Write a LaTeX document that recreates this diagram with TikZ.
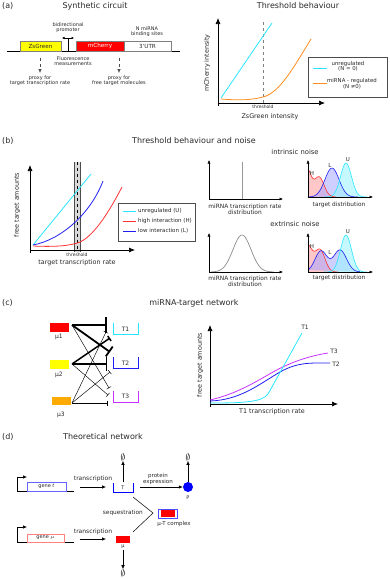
\documentclass[tikz,border=0pt]{standalone}
\usepackage{fontspec}
\setmainfont{DejaVu Sans}
\usetikzlibrary{arrows.meta}
\newcommand\myfs[1]{\fontsize{#1}{#1}\selectfont}
\definecolor{cy}{RGB}{40,230,255}
\definecolor{orng}{RGB}{255,140,30}
\definecolor{rd}{RGB}{255,50,50}
\definecolor{bl}{RGB}{30,30,240}
\definecolor{mg}{RGB}{200,50,255}
\definecolor{txt}{RGB}{40,40,40}
\definecolor{ylw}{RGB}{255,255,0}
\definecolor{org}{RGB}{255,170,0}
\begin{document}
\begin{tikzpicture}[x=1pt,y=-1pt,
  ttl/.style={font=\myfs{8}, text=txt, inner sep=0},
  lab/.style={font=\myfs{5.5}, text=txt, inner sep=0, align=center},
  cir/.style={font=\myfs{5}, text=txt, inner sep=0, align=center},
  axl/.style={font=\myfs{6.4}, text=txt, inner sep=0, align=center},
  sml/.style={font=\myfs{4.5}, text=txt, inner sep=0, align=center},
  ax/.style={line width=0.7pt, -{Latex[length=6pt,width=5pt]}},
  axs/.style={line width=0.5pt, -{Latex[length=3.5pt,width=3pt]}},
  arr/.style={line width=0.6pt, -{Latex[length=4pt,width=3.5pt]}},
  crv/.style={line width=0.8pt},
  thn/.style={line width=0.45pt, -{Bar[width=5pt]}},
  declare function={
    Hi(\x)=27*exp((\x-307)*(\x-307)/(-32))+20*exp((\x-319)*(\x-319)/(-50));
    Li(\x)=29*exp((\x-332)*(\x-332)/(-98));
    Ui(\x)=34*exp((\x-346)*(\x-346)/(-60));
    He(\x)=27*exp((\x-307)*(\x-307)/(-50))+22*exp((\x-320)*(\x-320)/(-50));
    Le(\x)=21*exp((\x-321)*(\x-321)/(-72))+22*exp((\x-340)*(\x-340)/(-84));
    Ue(\x)=37*exp((\x-346)*(\x-346)/(-60));
    Gs(\x)=37*exp((\x-242)*(\x-242)/(-162));
  }
]
\useasboundingbox (0,0) rectangle (389,579);

%% ---------------- (a) left
\node[ttl,anchor=west] (la) at (2,6) {(a)};
\node[ttl] (ta) at (95,6) {Synthetic circuit};
\draw[line width=0.6pt] (7,51) -- (180,51);
\draw[black!50, fill=ylw] (20,41) rectangle (61,51);
\node[cir, font=\myfs{5.6}] (zs) at (40.5,46) {ZsGreen};
\draw[black!50, fill=red] (76,41) rectangle (124,51);
\node[cir, font=\myfs{5.6}, text=white] (mc) at (100,46) {mCherry};
\draw[black!50, fill=white] (124,41) rectangle (171,51);
\node[cir, font=\myfs{5.6}] (utr) at (147.5,46) {3'UTR};
\draw[line width=0.6pt] (68,51) -- (68,38);
\draw[line width=0.6pt, {Latex[length=2.5pt,width=2.5pt]}-{Latex[length=2.5pt,width=2.5pt]}] (62,38) -- (74,38);
\node[cir] (bp) at (68,28) {bidirectional\\promoter};
\node[cir] (nm) at (147,32) {N miRNA\\binding sites};
\node[cir] (fm) at (73,61) {Fluorescence\\measurements};
\coordinate (d1a) at (40,58); \coordinate (d1b) at (40,73);
\coordinate (d2a) at (119,58); \coordinate (d2b) at (119,73);
\draw[dashed, black!70, line width=0.6pt, -{Latex[length=4pt,width=3.5pt]}] (d1a) -- (d1b);
\draw[dashed, black!70, line width=0.6pt, -{Latex[length=4pt,width=3.5pt]}] (d2a) -- (d2b);
\node[cir] (p1) at (40,81) {proxy for\\target transcription rate};
\node[cir] (p2) at (119,81) {proxy for\\free target molecules};

%% ---------------- (a) right
\node[ttl] (tb) at (298,6) {Threshold behaviour};
\draw[ax] (218,103) -- (218,18);
\draw[ax] (218,103) -- (325,103);
\draw[line width=0.6pt] (218,103) -- (218,106);
\node[axl, rotate=90] (yl1) at (207,63) {mCherry intensity};
\draw[dashed, black!50, line width=1pt] (263,22) -- (263,103);
\draw[crv, cy] (221,98) -- (272,23);
\draw[crv, orng] (221,99) .. controls (245,101) and (255,99) .. (263,97) .. controls (280,93) and (295,65) .. (311,39);
\node[sml] (th1) at (263,107) {threshold};
\node[axl] (xl1) at (270,117) {ZsGreen intensity};
\draw[black!70, line width=0.6pt] (308,57) rectangle (387,97);
\draw[crv, cy] (313,68) -- (327,68);
\draw[crv, orng] (313,83) -- (327,83);
\node[lab, font=\myfs{5.4}] (lg1) at (348,66.5) {unregulated\\(N = 0)};
\node[lab, font=\myfs{5.4}] (lg2) at (352,84) {miRNA - regulated\\(N ≠0)};

%% ---------------- (b)
\node[ttl,anchor=west] (lb) at (2,141) {(b)};
\node[ttl] (tbn) at (194,141) {Threshold behaviour and noise};
\fill[black!15] (74,162) rectangle (80,252);
\draw[black!70, line width=0.5pt] (74,162) -- (74,252) (80,162) -- (80,252);
\draw[dashed, line width=0.5pt] (77,162) -- (77,252);
\draw[ax] (30,250) -- (30,165);
\draw[ax] (30,250) -- (135,250);
\draw[line width=0.6pt] (30,250) -- (30,253);
\draw[crv, cy] (33,245) -- (91,174);
\draw[crv, bl] (33,245) .. controls (60,240) and (90,215) .. (103,181);
\draw[crv, rd] (33,246) .. controls (55,247) and (70,246) .. (80,242) .. controls (95,235) and (110,210) .. (122,187);
\node[sml] (th2) at (77,254.5) {threshold};
\node[axl] (xl2) at (77,263) {target transcription rate};
\node[axl, rotate=90] (yl2) at (17,205) {free target amounts};
\draw[black!70, line width=0.6pt] (118,203) rectangle (195,241);
\draw[crv, cy] (123,211) -- (136,211);
\draw[crv, rd] (123,221) -- (136,221);
\draw[crv, bl] (123,231) -- (136,231);
\node[lab, anchor=west] (lu) at (138,211) {unregulated (U)};
\node[lab, anchor=west] (lh) at (138,221) {high interaction (H)};
\node[lab, anchor=west] (ll) at (138,231) {low interaction (L)};

% intrinsic
\node[lab, font=\myfs{6.8}] (inn) at (295,152) {intrinsic noise};
\draw[axs] (209,199) -- (209,160);
\draw[axs] (209,199) -- (283,199);
\draw[black!40, line width=0.7pt] (242,162) -- (242,199);
\node[lab, font=\myfs{5.9}] (mr1) at (245,209.5) {miRNA transcription rate\\distribution};
\fill[red!40, fill opacity=0.55] (308,197) -- plot[domain=308:336, samples=50, smooth] (\x,{197-Hi(\x)}) -- cycle;
\fill[blue!35, fill opacity=0.55] plot[domain=308:358, samples=50, smooth] (\x,{197-Li(\x)}) -- cycle;
\fill[cy!45, fill opacity=0.6] plot[domain=324:367, samples=50, smooth] (\x,{197-Ui(\x)}) -- cycle;
\draw[rd, line width=0.6pt] plot[domain=308:336, samples=50, smooth] (\x,{197-Hi(\x)});
\draw[bl, line width=0.6pt] plot[domain=308:358, samples=50, smooth] (\x,{197-Li(\x)});
\draw[cy, line width=0.6pt] plot[domain=324:367, samples=50, smooth] (\x,{197-Ui(\x)});
\draw[axs] (308,197) -- (308,160);
\draw[axs] (308,197) -- (373,197);
\node[lab, font=\myfs{5.8}] (td1) at (339,205) {target distribution};
\node[lab] (h1) at (312,173) {H};
\node[lab] (l1) at (330,165) {L};
\node[lab] (u1) at (348,160) {U};

% extrinsic
\node[lab, font=\myfs{6.8}] (exn) at (295,224) {extrinsic noise};
\draw[black!45, line width=0.7pt] plot[domain=211:274, samples=60, smooth] (\x,{272-Gs(\x)});
\draw[axs] (209,272) -- (209,233);
\draw[axs] (209,272) -- (283,272);
\node[lab, font=\myfs{5.9}] (mr2) at (245,281.5) {miRNA transcription rate\\distribution};
\fill[red!40, fill opacity=0.55] (308,272) -- plot[domain=308:338, samples=50, smooth] (\x,{272-He(\x)}) -- cycle;
\fill[blue!35, fill opacity=0.55] plot[domain=308:360, samples=60, smooth] (\x,{272-Le(\x)}) -- cycle;
\fill[cy!45, fill opacity=0.6] plot[domain=324:367, samples=50, smooth] (\x,{272-Ue(\x)}) -- cycle;
\draw[rd, line width=0.6pt] plot[domain=308:338, samples=50, smooth] (\x,{272-He(\x)});
\draw[bl, line width=0.6pt] plot[domain=308:360, samples=60, smooth] (\x,{272-Le(\x)});
\draw[cy, line width=0.6pt] plot[domain=324:367, samples=50, smooth] (\x,{272-Ue(\x)});
\draw[axs] (308,272) -- (308,233);
\draw[axs] (308,272) -- (373,272);
\node[lab, font=\myfs{5.8}] (td2) at (339,278) {target distribution};
\node[lab] (h2) at (312,246) {H};
\node[lab] (l2) at (330,252) {L};
\node[lab] (u2) at (348,232) {U};

%% ---------------- (c)
\node[ttl,anchor=west] (lc) at (2,303) {(c)};
\node[ttl] (tc) at (194,303) {miRNA-target network};
\node[fill=red, minimum width=19pt, minimum height=9pt, inner sep=0] (m1) at (59.5,327.5) {};
\node[fill=ylw, minimum width=19pt, minimum height=9pt, inner sep=0] (m2) at (59.5,364.5) {};
\node[fill=org, minimum width=19pt, minimum height=8pt, inner sep=0] (m3) at (61.5,401) {};
\node[lab, font=\myfs{6}] (m1l) at (59,337) {μ1};
\node[lab, font=\myfs{6}] (m2l) at (59,375) {μ2};
\node[lab, font=\myfs{6}] (m3l) at (61,415) {μ3};
\draw[cy, line width=1pt] (113,323) -- (113,334) -- (138,334) -- (138,323);
\draw[bl, line width=1pt] (113,357) -- (113,368) -- (138,368) -- (138,357);
\draw[mg, line width=1pt] (113,391) -- (113,402) -- (138,402) -- (138,391);
\node[lab, font=\myfs{6}] (t1) at (125.5,329) {T1};
\node[lab, font=\myfs{6}] (t2) at (125.5,363) {T2};
\node[lab, font=\myfs{6}] (t3) at (125.5,396.5) {T3};
\coordinate (s1) at (72,325);
\coordinate (s2) at (72,364);
\coordinate (s3) at (72,403);
\coordinate (e11) at (107,325);
\coordinate (e12) at (110,352);
\coordinate (e13) at (109,388);
\coordinate (e21) at (110,338);
\coordinate (e22) at (107,364);
\coordinate (e23) at (108,395);
\coordinate (e31) at (106,332);
\coordinate (e32) at (110,372);
\coordinate (e33) at (107,403);
\draw[thn] (s1) -- (e13);
\draw[thn] (s2) -- (e23);
\draw[thn] (s3) -- (e31);
\draw[thn] (s3) -- (e32);
\draw[thn] (s3) -- (e33);
\draw[line width=1.2pt, -{Bar[width=14pt]}] (s2) -- (e22);
\draw[line width=1.5pt, -{Bar[width=6pt]}] (s2) -- (e21);
\draw[line width=1.8pt, -{Bar[width=16pt]}] (s1) -- (e11);
\draw[line width=1.8pt, -{Bar[width=12pt]}] (s1) -- (e12);

\draw[ax] (210,404) -- (210,325);
\draw[ax] (210,404) -- (338,404);
\draw[line width=0.6pt] (210,404) -- (210,407);
\node[axl, rotate=90] (yl3) at (200,365) {free target amounts};
\node[axl] (xl3) at (272,412) {T1 transcription rate};
\draw[crv, mg] (210,400) .. controls (245,392) and (268,373) .. (285,366) .. controls (300,359) and (315,355) .. (328,353);
\draw[crv, bl] (210,401) .. controls (240,400) and (258,385) .. (280,372) .. controls (298,362) and (310,363) .. (330,363);
\draw[crv, cy] (210,403) .. controls (245,403) and (262,402) .. (268,394) -- (302,333);
\node[lab, font=\myfs{6}] (c1) at (305,327) {T1};
\node[lab, font=\myfs{6}] (c3) at (334,351) {T3};
\node[lab, font=\myfs{6}] (c2) at (336,364) {T2};

%% ---------------- (d)
\node[ttl,anchor=west] (ld) at (2,437) {(d)};
\node[ttl] (td) at (103,437) {Theoretical network};
% gene t
\draw[line width=0.6pt] (74,491) -- (17,491) -- (17,477);
\coordinate (pt0) at (17,477); \coordinate (pt1) at (27,477);
\draw[arr] (pt0) -- (pt1);
\draw[blue!60, line width=0.5pt] (27,482) rectangle (66,491);
\node[sml, font=\myfs{5}] (gt) at (46.5,486.5) {gene \textit{t}};
\coordinate (a1) at (80,487); \coordinate (a2) at (106,487);
\draw[arr] (a1) -- (a2);
\node[lab, font=\myfs{6}] (tr1) at (93,479) {transcription};
\draw[blue, line width=0.9pt] (113,483) -- (113,492) -- (133,492) -- (133,483);
\node[sml, font=\myfs{5}] (tT) at (123,488) {T};
\node[inner sep=0, font=\myfs{9}] (n1) at (123,457) {$\emptyset$};
\coordinate (tu) at (123,482);
\draw[arr] (tu) -- (n1.south);
\node[lab] (pe) at (158,479) {protein\\expression};
\coordinate (a3) at (140,487);
\node[circle, fill=blue, minimum size=10pt, inner sep=0] (P) at (188,487) {};
\draw[arr] (a3) -- (P.west);
\node[sml, font=\myfs{5}] (Pl) at (188,497.5) {P};
\node[inner sep=0, font=\myfs{9}] (n2) at (188,457) {$\emptyset$};
\draw[arr] (P.north) -- (n2.south);
% sequestration
\coordinate (q1) at (133,497); \coordinate (q2) at (153,513); \coordinate (q3) at (133,532);
\draw[line width=0.5pt] (q1) -- (q2) -- (q3);
\node[lab, font=\myfs{5.8}, anchor=east] (sq) at (143,513) {sequestration};
\draw[blue!70, line width=0.6pt, fill=white] (158,509) rectangle (177,518);
\fill[red] (160.5,510) rectangle (175,516.5);
\node[lab] (cx) at (174,523.5) {μ-T complex};
% gene mu
\draw[line width=0.6pt] (74,542) -- (17,542) -- (17,527);
\coordinate (pm0) at (17,527); \coordinate (pm1) at (27,527);
\draw[arr] (pm0) -- (pm1);
\draw[red!50, line width=0.5pt] (27,534) rectangle (64,542);
\node[sml, font=\myfs{5}] (gm) at (45.5,538) {gene $\mu$};
\coordinate (a4) at (80,539); \coordinate (a5) at (106,539);
\draw[arr] (a4) -- (a5);
\node[lab, font=\myfs{6}] (tr2) at (93,532) {transcription};
\node[fill=red, minimum width=14pt, minimum height=7pt, inner sep=0] (mu) at (123,539.5) {};
\node[sml, font=\myfs{5}] (mul) at (123,547) {μ};
\node[inner sep=0, font=\myfs{9}] (n3) at (123,573) {$\emptyset$};
\coordinate (md) at (123,550);
\draw[arr] (md) -- (n3.north);
\end{tikzpicture}
\end{document}
